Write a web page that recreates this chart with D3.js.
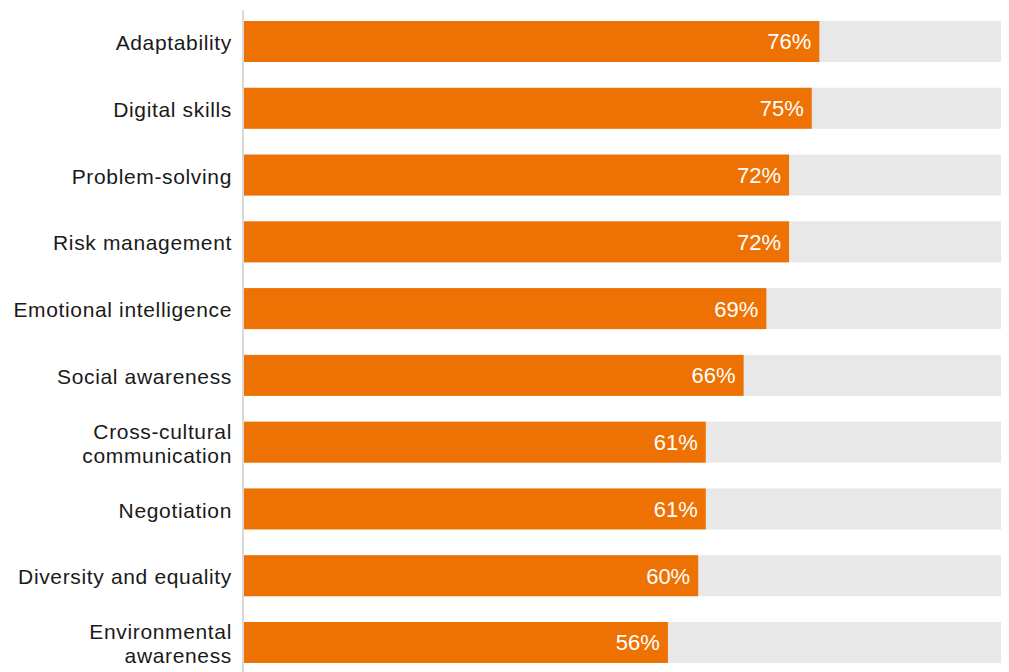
<!DOCTYPE html>
<html>
<head>
<meta charset="utf-8">
<script src="https://cdn.jsdelivr.net/npm/d3@7"></script>
<style>
  html, body { margin: 0; padding: 0; background: #ffffff; }
  svg { display: block; }
</style>
</head>
<body>
<svg id="chart" width="1009" height="672"></svg>
<script>
// Skills and the share of respondents naming each one
const skills = [
  "Adaptability",
  "Digital skills",
  "Problem-solving",
  "Risk management",
  "Emotional intelligence",
  "Social awareness",
  "Cross-cultural communication",
  "Negotiation",
  "Diversity and equality",
  "Environmental awareness"
];
const shares = [76, 75, 72, 72, 69, 66, 61, 61, 60, 56];
// Labels that wrap onto two lines
const labelLines = {
  "Cross-cultural communication": ["Cross-cultural", "communication"],
  "Environmental awareness": ["Environmental", "awareness"]
};

const data = skills.map((s, i) => ({ skill: s, value: shares[i] }));

const svg = d3.select("#chart");
const W = 1009, H = 672;
const x0 = 244, x1 = 1001;

const x = d3.scaleLinear().domain([0, 100]).range([x0, x1]);
const y = d3.scaleBand().domain(skills).range([21, 663]).paddingInner(0.386).paddingOuter(0);

const font = "'Liberation Sans', Arial, sans-serif";

// Full-width track behind each bar
svg.append("g").selectAll("rect").data(data).join("rect")
  .attr("x", x(0)).attr("y", d => y(d.skill))
  .attr("width", x(100) - x(0)).attr("height", y.bandwidth())
  .attr("fill", "#e8e8e8");

// Value bars
svg.append("g").selectAll("rect").data(data).join("rect")
  .attr("x", x(0)).attr("y", d => y(d.skill))
  .attr("width", d => x(d.value) - x(0)).attr("height", y.bandwidth())
  .attr("fill", "#ee7203");

// Value labels inside the bar ends
svg.append("g").selectAll("text").data(data).join("text")
  .attr("x", d => x(d.value) - 8)
  .attr("y", d => y(d.skill) + y.bandwidth() / 2)
  .attr("dy", "0.36em")
  .attr("text-anchor", "end")
  .attr("fill", "#ffffff")
  .style("font-family", font).style("font-size", "22px")
  .text(d => d.value + "%");

// Vertical axis line
svg.append("line")
  .attr("x1", x0 - 1).attr("x2", x0 - 1).attr("y1", 10).attr("y2", H)
  .attr("stroke", "#d9d9d9").attr("stroke-width", 2);

// Category labels
const labels = svg.append("g").selectAll("text").data(data).join("text")
  .attr("text-anchor", "end")
  .attr("fill", "#1a1a1a")
  .style("font-family", font).style("font-size", "21px").style("letter-spacing", "0.65px");

labels.each(function(d) {
  const lines = labelLines[d.skill] || [d.skill];
  const cy = y(d.skill) + y.bandwidth() / 2 + 1;
  const lh = 24;
  const t = d3.select(this);
  lines.forEach((ln, i) => {
    t.append("tspan")
      .attr("x", 232)
      .attr("y", cy + (i - (lines.length - 1) / 2) * lh)
      .attr("dy", "0.36em")
      .text(ln);
  });
});
</script>
</body>
</html>
